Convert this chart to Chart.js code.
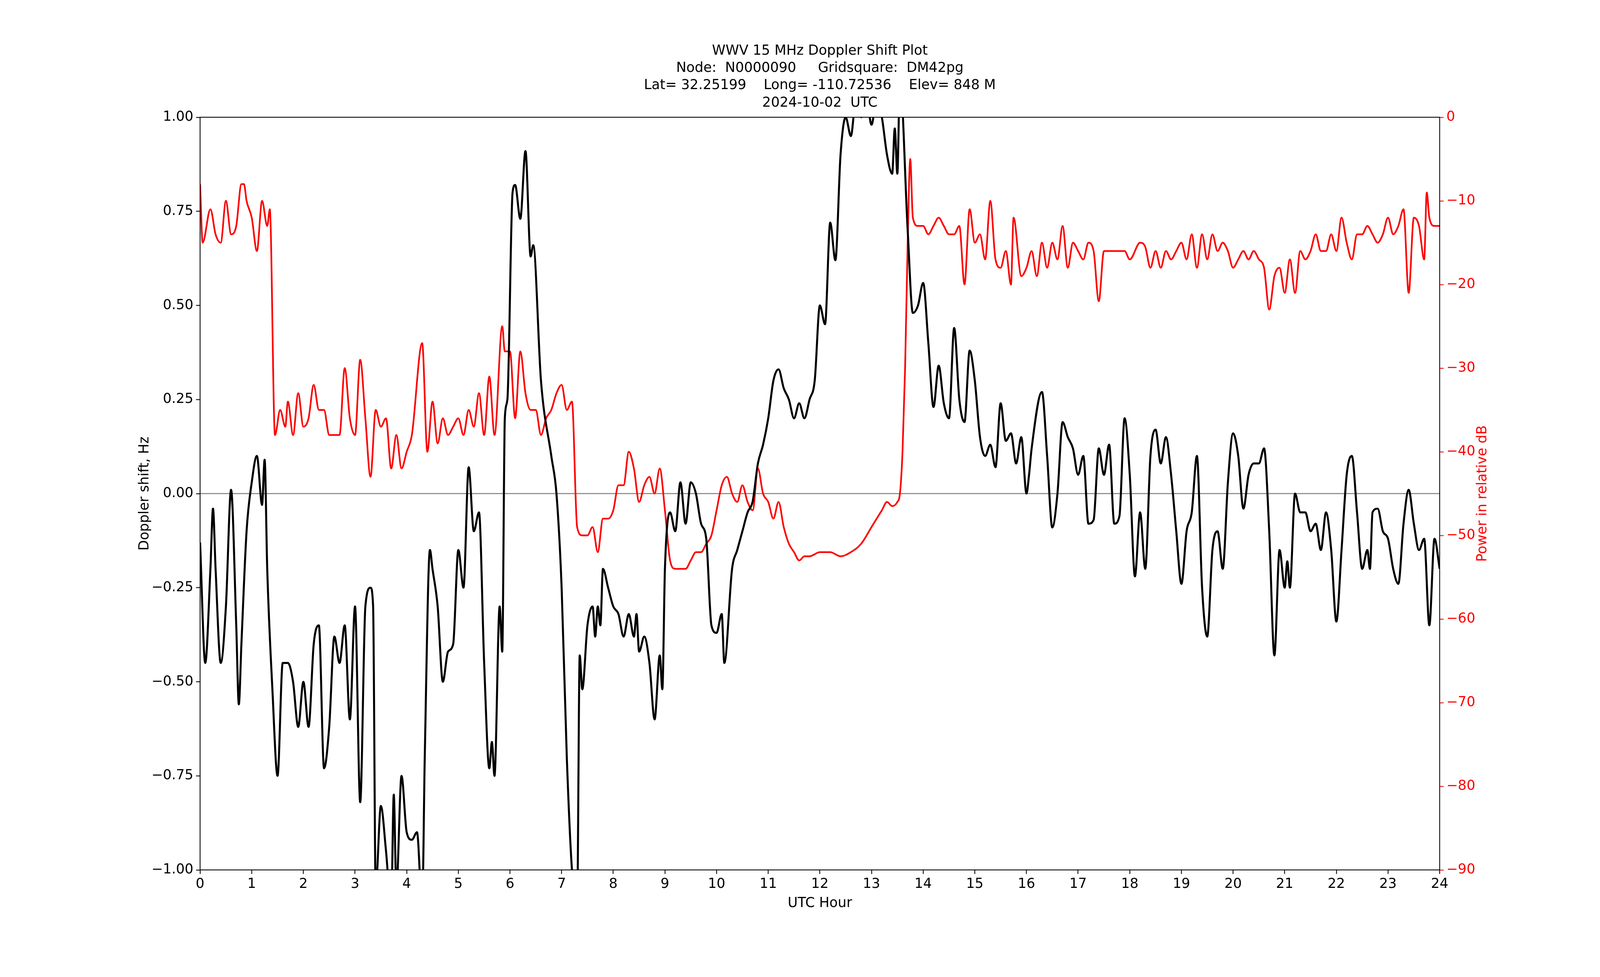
<!DOCTYPE html>
<html><head><meta charset="utf-8">
<script src="https://cdn.jsdelivr.net/npm/chart.js@4/dist/chart.umd.min.js"></script>
<style>html,body{margin:0;padding:0;background:#fff;overflow:hidden;width:100%;height:100%}#w{position:relative;width:100vw;height:100vh}</style>
</head><body>
<div id="w"><canvas id="c"></canvas></div>
<script>
const titleLines = ["WWV 15 MHz Doppler Shift Plot","Node:  N0000090     Gridsquare:  DM42pg","Lat= 32.25199    Long= -110.72536    Elev= 848 M","2024-10-02  UTC"];
const xTitle = "UTC Hour", yTitle = "Doppler shift, Hz", y2Title = "Power in relative dB";
const dopplerHours = [0,0.1,0.2,0.25,0.3,0.4,0.5,0.6,0.7,0.75,0.8,0.9,1.0,1.1,1.2,1.25,1.3,1.4,1.5,1.6,1.7,1.8,1.9,2.0,2.1,2.2,2.3,2.4,2.5,2.6,2.7,2.8,2.9,3.0,3.1,3.2,3.3,3.35,3.4,3.5,3.6,3.7,3.75,3.8,3.9,4.0,4.1,4.2,4.3,4.35,4.45,4.5,4.6,4.7,4.8,4.9,5.0,5.1,5.2,5.3,5.4,5.5,5.6,5.65,5.7,5.8,5.85,5.9,5.95,6.05,6.1,6.2,6.3,6.4,6.45,6.6,6.8,6.9,7.0,7.1,7.2,7.3,7.35,7.4,7.5,7.6,7.65,7.7,7.75,7.8,7.9,8.0,8.1,8.2,8.3,8.4,8.45,8.5,8.6,8.7,8.8,8.9,8.95,9.0,9.1,9.2,9.3,9.4,9.5,9.6,9.7,9.8,9.9,10.0,10.1,10.15,10.3,10.4,10.5,10.6,10.7,10.8,10.9,11.0,11.1,11.2,11.3,11.4,11.5,11.6,11.7,11.8,11.9,12.0,12.1,12.2,12.3,12.4,12.5,12.6,12.7,12.8,12.9,13.0,13.1,13.2,13.3,13.4,13.45,13.5,13.55,13.7,13.8,13.9,14.0,14.1,14.2,14.3,14.4,14.5,14.6,14.7,14.8,14.9,15.0,15.1,15.2,15.3,15.4,15.5,15.6,15.7,15.8,15.9,16.0,16.05,16.1,16.3,16.4,16.5,16.6,16.7,16.8,16.9,17.0,17.1,17.2,17.3,17.4,17.5,17.6,17.7,17.8,17.9,18.0,18.1,18.2,18.3,18.4,18.5,18.6,18.7,18.8,18.9,19.0,19.1,19.2,19.3,19.4,19.5,19.6,19.7,19.8,19.9,20.0,20.1,20.2,20.3,20.4,20.5,20.6,20.7,20.8,20.9,21.0,21.05,21.1,21.2,21.3,21.4,21.5,21.6,21.7,21.8,21.9,22.0,22.1,22.2,22.3,22.4,22.5,22.6,22.65,22.7,22.8,22.9,23.0,23.1,23.2,23.3,23.4,23.5,23.6,23.7,23.8,23.9,24.0];
const dopplerValues = [-0.13,-0.45,-0.2,-0.04,-0.2,-0.45,-0.3,0.01,-0.35,-0.56,-0.4,-0.1,0.03,0.1,-0.03,0.09,-0.2,-0.52,-0.75,-0.45,-0.45,-0.5,-0.62,-0.5,-0.62,-0.4,-0.35,-0.73,-0.62,-0.38,-0.45,-0.35,-0.6,-0.3,-0.82,-0.3,-0.25,-0.3,-1.05,-0.83,-0.95,-1.1,-0.8,-1.05,-0.75,-0.9,-0.92,-0.9,-1.1,-0.7,-0.15,-0.2,-0.3,-0.5,-0.42,-0.4,-0.15,-0.25,0.07,-0.1,-0.05,-0.45,-0.73,-0.66,-0.75,-0.3,-0.42,0.2,0.25,0.8,0.82,0.73,0.91,0.63,0.66,0.3,0.1,0.0,-0.25,-0.7,-1.0,-1.1,-0.43,-0.52,-0.35,-0.3,-0.38,-0.3,-0.35,-0.2,-0.25,-0.3,-0.32,-0.38,-0.32,-0.38,-0.32,-0.42,-0.38,-0.45,-0.6,-0.43,-0.52,-0.2,-0.05,-0.1,0.03,-0.08,0.03,0.0,-0.08,-0.12,-0.35,-0.37,-0.32,-0.45,-0.2,-0.15,-0.1,-0.05,-0.02,0.08,0.13,0.2,0.3,0.33,0.28,0.25,0.2,0.24,0.2,0.25,0.3,0.5,0.45,0.72,0.62,0.9,1.0,0.95,1.05,1.0,1.05,0.98,1.05,1.0,0.9,0.85,0.97,0.85,1.1,0.7,0.48,0.5,0.56,0.4,0.23,0.34,0.24,0.2,0.44,0.25,0.19,0.38,0.3,0.15,0.1,0.13,0.07,0.24,0.14,0.16,0.08,0.15,0.0,0.05,0.12,0.27,0.1,-0.09,0.0,0.19,0.15,0.12,0.05,0.1,-0.08,-0.07,0.12,0.05,0.13,-0.08,-0.06,0.2,0.05,-0.22,-0.05,-0.2,0.1,0.17,0.08,0.15,0.05,-0.1,-0.24,-0.1,-0.05,0.1,-0.25,-0.38,-0.15,-0.1,-0.2,0.03,0.16,0.1,-0.04,0.05,0.08,0.08,0.12,-0.1,-0.43,-0.15,-0.25,-0.18,-0.25,0.0,-0.05,-0.05,-0.1,-0.08,-0.15,-0.05,-0.15,-0.34,-0.15,0.05,0.1,-0.05,-0.2,-0.15,-0.2,-0.05,-0.04,-0.1,-0.12,-0.2,-0.24,-0.08,0.01,-0.08,-0.15,-0.12,-0.35,-0.12,-0.2];
const powerHours = [0,0.05,0.2,0.3,0.4,0.5,0.6,0.7,0.8,0.85,0.9,1.0,1.1,1.2,1.3,1.35,1.45,1.55,1.65,1.7,1.8,1.9,2.0,2.1,2.2,2.3,2.4,2.5,2.6,2.7,2.8,2.9,3.0,3.1,3.2,3.3,3.4,3.5,3.6,3.7,3.8,3.9,4.0,4.1,4.3,4.4,4.5,4.6,4.7,4.8,4.9,5.0,5.1,5.2,5.3,5.4,5.5,5.6,5.7,5.85,5.9,6.0,6.1,6.2,6.3,6.4,6.5,6.6,6.7,6.8,6.9,7.0,7.1,7.2,7.3,7.4,7.5,7.6,7.7,7.8,7.9,8.0,8.1,8.2,8.3,8.4,8.5,8.6,8.7,8.8,8.9,9.0,9.1,9.2,9.3,9.4,9.5,9.6,9.7,9.8,9.9,10.0,10.1,10.2,10.3,10.4,10.5,10.6,10.7,10.8,10.9,11.0,11.1,11.2,11.3,11.4,11.5,11.6,11.7,11.8,12.0,12.2,12.4,12.6,12.8,13.0,13.1,13.2,13.3,13.4,13.5,13.55,13.6,13.65,13.7,13.75,13.8,13.9,14.0,14.1,14.2,14.3,14.4,14.5,14.6,14.7,14.8,14.9,15.0,15.1,15.2,15.3,15.4,15.5,15.6,15.7,15.75,15.9,16.0,16.1,16.2,16.3,16.4,16.5,16.6,16.7,16.8,16.9,17.0,17.1,17.2,17.3,17.4,17.5,17.6,17.7,17.8,17.9,18.0,18.2,18.3,18.4,18.5,18.6,18.7,18.8,18.9,19.0,19.1,19.2,19.3,19.4,19.5,19.6,19.7,19.8,19.9,20.0,20.1,20.2,20.3,20.4,20.5,20.6,20.7,20.8,20.9,21.0,21.1,21.2,21.3,21.4,21.5,21.6,21.7,21.8,21.9,22.0,22.1,22.2,22.3,22.4,22.5,22.6,22.7,22.8,22.9,23.0,23.1,23.2,23.3,23.4,23.5,23.6,23.7,23.75,23.8,23.9,24.0];
const powerValues = [-8,-15,-11,-14,-15,-10,-14,-13,-8,-8,-10,-12,-16,-10,-13,-11,-38,-35,-37,-34,-38,-33,-37,-36,-32,-35,-35,-38,-38,-38,-30,-36,-38,-29,-36,-43,-35,-37,-36,-42,-38,-42,-40,-38,-27,-40,-34,-39,-36,-38,-37,-36,-38,-35,-37,-33,-38,-31,-38,-25,-28,-28,-36,-28,-33,-35,-35,-38,-36,-35,-33,-32,-35,-34,-49,-50,-50,-49,-52,-48,-48,-47,-44,-44,-40,-42,-46,-44,-43,-45,-42,-47,-53,-54,-54,-54,-53,-52,-52,-51,-50,-47,-44,-43,-45,-46,-44,-46,-47,-42,-45,-46,-48,-46,-49,-51,-52,-53,-52.5,-52.5,-52,-52,-52.5,-52,-51,-49,-48,-47,-46,-46.5,-46,-45,-40,-30,-15,-5,-12,-13,-13,-14,-13,-12,-13,-14,-14,-13,-20,-11,-15,-14,-17,-10,-17,-18,-16,-20,-12,-19,-18,-16,-19,-15,-18,-15,-17,-13,-18,-15,-16,-17,-15,-16,-22,-16,-16,-16,-16,-16,-17,-15,-15.5,-18,-16,-18,-16,-17,-16,-15,-17,-14,-18,-14,-17,-14,-16,-15,-16,-18,-17,-16,-17,-16,-17,-18,-23,-19,-18,-21,-17,-21,-16,-17,-16,-14,-16,-16,-14,-16,-12,-15,-17,-14,-14,-13,-14,-15,-14,-12,-14,-13,-11,-21,-12,-13,-17,-9,-12,-13,-13];
const xTicks = [0,1,2,3,4,5,6,7,8,9,10,11,12,13,14,15,16,17,18,19,20,21,22,23,24];

const W = window.innerWidth, H = window.innerHeight;
const sx = W/4750, sy = H/2500, s = Math.min(sx,sy);
const F = "'DejaVu Sans'";
const FS = Math.round(41*s);
const L = 594*sx, R = 4274*sx, T = 300*sy, B = 2226*sy;
const deco = {
  id:'deco',
  beforeDatasetsDraw(c){
    const ctx=c.ctx, y0=c.scales.y.getPixelForValue(0);
    ctx.save(); ctx.strokeStyle='#808080'; ctx.lineWidth=3*s;
    ctx.beginPath(); ctx.moveTo(c.chartArea.left,y0); ctx.lineTo(c.chartArea.right,y0); ctx.stroke(); ctx.restore();
  },
  afterDraw(c){
    const ctx=c.ctx, a=c.chartArea;
    ctx.save(); ctx.strokeStyle='#000'; ctx.lineWidth=2.5*s;
    ctx.strokeRect(a.left,a.top,a.right-a.left,a.bottom-a.top);
    ctx.fillStyle='#000'; ctx.font=FS+"px "+F; ctx.textAlign='center'; ctx.textBaseline='alphabetic';
    const lh = (a.top - 0)*0.148;
    titleLines.forEach((t,i)=>ctx.fillText(t,(a.left+a.right)/2,a.top*0.465+i*lh));
    ctx.textBaseline='middle';
    ctx.fillText(xTitle,(a.left+a.right)/2,H*(2312/2500));
    const ym=(a.top+a.bottom)/2;
    ctx.save(); ctx.translate(W*(430/4750),ym); ctx.rotate(-Math.PI/2); ctx.fillText(yTitle,0,0); ctx.restore();
    ctx.fillStyle='#ff0000';
    ctx.save(); ctx.translate(W*(4402/4750),ym); ctx.rotate(-Math.PI/2); ctx.fillText(y2Title,0,0); ctx.restore();
    ctx.restore();
  }
};
new Chart(document.getElementById('c'),{
  type:'line',
  data:{datasets:[
    {label:'Doppler',data:dopplerHours.map((h,i)=>({x:h,y:dopplerValues[i]})),borderColor:'#000',borderWidth:6*s,pointRadius:0,cubicInterpolationMode:'monotone',yAxisID:'y'},
    {label:'Power',data:powerHours.map((h,i)=>({x:h,y:powerValues[i]})),borderColor:'#ff0000',borderWidth:5*s,pointRadius:0,cubicInterpolationMode:'monotone',yAxisID:'y2'}
  ]},
  options:{
    responsive:true,maintainAspectRatio:false,animation:false,
    layout:{padding:{top:T,left:0,right:0,bottom:0}},
    plugins:{legend:{display:false},tooltip:{enabled:false}},
    scales:{
      x:{type:'linear',min:0,max:24,afterBuildTicks(sc){sc.ticks=xTicks.map(v=>({value:v}));},
        afterFit(sc){sc.height=H-B;},
        grid:{drawOnChartArea:false,tickLength:12*s,tickColor:'#000',tickWidth:2.5*s},border:{display:false},
        ticks:{color:'#000',font:{family:F,size:FS},maxRotation:0,autoSkip:false,padding:6*s}},
      y:{position:'left',min:-1,max:1,afterBuildTicks(sc){sc.ticks=[-1,-0.75,-0.5,-0.25,0,0.25,0.5,0.75,1].map(v=>({value:v}));},
        afterFit(sc){sc.width=L;},
        grid:{drawOnChartArea:false,tickLength:12*s,tickColor:'#000',tickWidth:2.5*s},border:{display:false},
        ticks:{color:'#000',font:{family:F,size:FS},padding:8*s,callback:v=>(v<0?'\u2212':'')+Math.abs(v).toFixed(2)}},
      y2:{position:'right',min:-90,max:0,afterBuildTicks(sc){sc.ticks=[0,-10,-20,-30,-40,-50,-60,-70,-80,-90].map(v=>({value:v}));},
        afterFit(sc){sc.width=W-R;},
        grid:{drawOnChartArea:false,tickLength:12*s,tickColor:'#ff0000',tickWidth:2.5*s},border:{display:false},
        ticks:{color:'#ff0000',font:{family:F,size:FS},padding:8*s,callback:v=>v===0?'0':'\u2212'+Math.abs(v)}}
    }
  },
  plugins:[deco]
});
</script>
</body></html>
